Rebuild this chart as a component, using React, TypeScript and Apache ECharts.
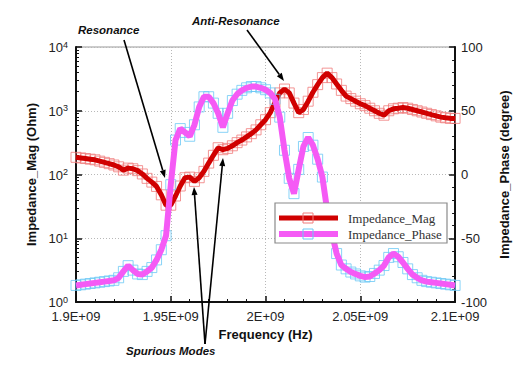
import React, { useEffect, useRef } from "react";
import * as echarts from "echarts";

const freqMHz = [1900,1902.5,1905,1907.5,1910,1912.5,1915,1917.5,1920,1922.5,1925,1927.5,1930,1932.5,1935,1937.5,1940,1942.5,1945,1947.5,1950,1952.5,1955,1957.5,1960,1962.5,1965,1967.5,1970,1972.5,1975,1977.5,1980,1982.5,1985,1987.5,1990,1992.5,1995,1997.5,2000,2002.5,2005,2007.5,2010,2012.5,2015,2017.5,2020,2022.5,2025,2027.5,2030,2032.5,2035,2037.5,2040,2042.5,2045,2047.5,2050,2052.5,2055,2057.5,2060,2062.5,2065,2067.5,2070,2072.5,2075,2077.5,2080,2082.5,2085,2087.5,2090,2092.5,2095,2097.5,2100];

const magOhm = [186,182,178,174,170,162,155,148,141,132,117,126,123,115,102,87,76,65,48,33,33,46,66,89,91,78,89,112,151,200,263,245,257,282,316,347,389,437,501,603,724,933,1349,1905,2188,1905,1318,933,1047,1413,1950,2570,3311,3890,3311,2630,2089,1698,1549,1413,1288,1202,1096,1000,912,851,1000,1072,1096,1122,1096,1047,1000,955,912,871,832,794,776,759,759];

const phaseDeg = [-87,-86.5,-86,-85.5,-85,-84.5,-84,-83.5,-83,-81,-76,-71.5,-75,-78,-78.5,-76,-73,-67,-59,-48,-8,27,36,33,30,39,53,61,61,56,48,37,48,58,63,66,68,69,69,68,66.5,64,59,45,19,-3,-15,4,22,29,23,12,-2,-28,-46,-62,-71,-74,-76.5,-78,-79.5,-80.5,-80,-77.6,-75,-71.4,-65,-62,-64.5,-69,-74,-78.5,-81,-83,-84,-84.5,-85,-85.5,-86,-86.5,-87];

const xTickLabels: Record<string, string> = {
  "1900000000": "1.9E+09",
  "1950000000": "1.95E+09",
  "2000000000": "2E+09",
  "2050000000": "2.05E+09",
  "2100000000": "2.1E+09",
};

const seriesNames = ["Impedance_Mag", "Impedance_Phase"];

const SANS = "'Liberation Sans', Arial, sans-serif";
const SERIF = "'Liberation Serif', 'Times New Roman', serif";
const RED = "#d00000";
const RED_MK = "#f07a7a";
const MAG = "#f55af5";
const BLUE_MK = "#6cc8f5";

function logMinorTicks(): number[] {
  const out: number[] = [];
  for (let d = 1; d < 10000; d *= 10) {
    for (let m = 2; m <= 9; m++) out.push(d * m);
  }
  return out;
}

function arrow(x1: number, y1: number, x2: number, y2: number) {
  const dx = x2 - x1;
  const dy = y2 - y1;
  const len = Math.sqrt(dx * dx + dy * dy);
  const ux = dx / len;
  const uy = dy / len;
  const hl = 8;
  const hw = 3;
  const bx = x2 - ux * hl;
  const by = y2 - uy * hl;
  return [
    {
      type: "line",
      shape: { x1, y1, x2: bx, y2: by },
      style: { stroke: "#000", lineWidth: 1.6 },
      z: 100,
    },
    {
      type: "polygon",
      shape: {
        points: [
          [x2, y2],
          [bx - uy * hw, by + ux * hw],
          [bx + uy * hw, by - ux * hw],
        ],
      },
      style: { fill: "#000" },
      z: 100,
    },
  ];
}

export default function App() {
  const ref = useRef<HTMLDivElement>(null);
  useEffect(() => {
    document.body.style.margin = "0";
    if (!ref.current) return;
    const chart = echarts.init(ref.current, undefined, { renderer: "svg" });
    const magData = freqMHz.map((f, i) => [f * 1e6, magOhm[i]]);
    const phaseData = freqMHz.map((f, i) => [f * 1e6, phaseDeg[i]]);

    const legendX = 275;
    const legendY = 203;
    const graphic: any[] = [
      {
        type: "rect",
        shape: { x: legendX, y: legendY, width: 172, height: 40 },
        style: { fill: "#fff", stroke: "#8a8a8a", lineWidth: 1.2 },
        z: 90,
      },
      {
        type: "line",
        shape: { x1: legendX + 4, y1: legendY + 15, x2: legendX + 63, y2: legendY + 15 },
        style: { stroke: RED, lineWidth: 5 },
        z: 91,
      },
      {
        type: "rect",
        shape: { x: legendX + 28, y: legendY + 10, width: 10, height: 10 },
        style: { fill: "none", stroke: RED_MK, lineWidth: 1 },
        z: 92,
      },
      {
        type: "line",
        shape: { x1: legendX + 4, y1: legendY + 31, x2: legendX + 63, y2: legendY + 31 },
        style: { stroke: MAG, lineWidth: 6 },
        z: 91,
      },
      {
        type: "rect",
        shape: { x: legendX + 28, y: legendY + 26, width: 10, height: 10 },
        style: { fill: "none", stroke: BLUE_MK, lineWidth: 1 },
        z: 92,
      },
      {
        type: "text",
        x: legendX + 73,
        y: legendY + 15,
        style: { text: seriesNames[0], font: `13px ${SERIF}`, fill: "#333", verticalAlign: "middle" },
        z: 93,
      },
      {
        type: "text",
        x: legendX + 73,
        y: legendY + 31,
        style: { text: seriesNames[1], font: `13px ${SERIF}`, fill: "#333", verticalAlign: "middle" },
        z: 93,
      },
      {
        type: "text",
        x: 78,
        y: 30,
        style: { text: "Resonance", font: `italic bold 11.5px ${SANS}`, fill: "#111", verticalAlign: "middle" },
        z: 100,
      },
      {
        type: "text",
        x: 192,
        y: 21,
        style: { text: "Anti-Resonance", font: `italic bold 11.5px ${SANS}`, fill: "#111", verticalAlign: "middle" },
        z: 100,
      },
      {
        type: "text",
        x: 126,
        y: 351,
        style: { text: "Spurious Modes", font: `italic bold 11.5px ${SANS}`, fill: "#111", verticalAlign: "middle" },
        z: 100,
      },
      ...arrow(124, 40, 165, 178),
      ...arrow(247, 30, 284, 81),
      ...arrow(205, 344, 194, 187),
      ...arrow(205, 344, 223, 158),
    ];

    chart.setOption({
      animation: false,
      backgroundColor: "#fff",
      grid: {
        left: 76,
        right: 58,
        top: 47,
        bottom: 69,
        show: true,
        borderColor: "#9a9a9a",
        borderWidth: 1.2,
        backgroundColor: "transparent",
      },
      graphic,
      xAxis: {
        type: "value",
        min: 1900000000,
        max: 2100000000,
        interval: 50000000,
        name: "Frequency (Hz)",
        nameLocation: "middle",
        nameGap: 21,
        nameTextStyle: { fontFamily: SANS, fontWeight: "bold", fontSize: 13, color: "#111" },
        axisLine: { onZero: false, lineStyle: { color: "#111", width: 2 } },
        axisTick: { inside: true, length: 6, lineStyle: { color: "#111", width: 1.5 } },
        minorTick: { show: true, splitNumber: 5, length: 3, lineStyle: { color: "#111", width: 1 } },
        axisLabel: {
          margin: 8,
          fontFamily: SANS,
          fontSize: 13,
          color: "#222",
          formatter: (v: number) => xTickLabels[String(Math.round(v))] ?? "",
        },
        splitLine: { show: true, lineStyle: { color: "#b8b8b8", type: [1, 2], width: 1 } },
      },
      yAxis: [
        {
          type: "log",
          logBase: 10,
          min: 1,
          max: 10000,
          name: "Impedance_Mag (Ohm)",
          nameLocation: "middle",
          nameGap: 38,
          nameRotate: 90,
          nameTextStyle: { fontFamily: SANS, fontWeight: "bold", fontSize: 13, color: "#111" },
          axisLine: { show: true, onZero: false, lineStyle: { color: "#111", width: 2 } },
          axisTick: { inside: true, length: 6, lineStyle: { color: "#111", width: 1.5 } },
          axisLabel: {
            margin: 8,
            formatter: (v: number) => `{b|10}{s|${Math.round(Math.log10(v))}}`,
            rich: {
              b: { fontFamily: SANS, fontSize: 13, color: "#222", lineHeight: 14, verticalAlign: "bottom" },
              s: { fontFamily: SANS, fontSize: 9, color: "#222", lineHeight: 14, verticalAlign: "top", padding: [0, 0, 5, 0] },
            },
          },
          splitLine: { show: true, lineStyle: { color: "#b8b8b8", type: [1, 2], width: 1 } },
        },
        {
          type: "value",
          min: -100,
          max: 100,
          interval: 50,
          position: "right",
          name: "Impedance_Phase (degree)",
          nameLocation: "middle",
          nameGap: 38,
          nameRotate: 90,
          nameTextStyle: { fontFamily: SANS, fontWeight: "bold", fontSize: 13, color: "#111" },
          axisLine: { show: true, onZero: false, lineStyle: { color: "#111", width: 2 } },
          axisTick: { inside: true, length: 6, lineStyle: { color: "#111", width: 1.5 } },
          minorTick: { show: true, splitNumber: 5, length: 3, lineStyle: { color: "#111", width: 1 } },
          axisLabel: { margin: 6, fontFamily: SANS, fontSize: 13, color: "#222" },
          splitLine: { show: false },
        },
        {
          type: "log",
          logBase: 10,
          min: 1,
          max: 10000,
          position: "left",
          axisLine: { show: false, onZero: false },
          axisLabel: { show: false },
          splitLine: { show: false },
          axisTick: {
            show: true,
            inside: true,
            length: 3,
            customValues: logMinorTicks(),
            lineStyle: { color: "#111", width: 1 },
          },
        },
      ],
      series: [
        {
          name: seriesNames[0] + " markers",
          type: "scatter",
          yAxisIndex: 0,
          data: magData,
          symbol: "rect",
          symbolSize: 10,
          itemStyle: { color: "transparent", borderColor: RED_MK, borderWidth: 1 },
          silent: true,
          z: 2,
        },
        {
          name: seriesNames[0],
          type: "line",
          yAxisIndex: 0,
          data: magData,
          showSymbol: false,
          symbol: "none",
          lineStyle: { color: RED, width: 5 },
          z: 3,
        },
        {
          name: seriesNames[1] + " markers",
          type: "scatter",
          yAxisIndex: 1,
          data: phaseData,
          symbol: "rect",
          symbolSize: 10,
          itemStyle: { color: "transparent", borderColor: BLUE_MK, borderWidth: 1 },
          silent: true,
          z: 4,
        },
        {
          name: seriesNames[1],
          type: "line",
          yAxisIndex: 1,
          data: phaseData,
          showSymbol: false,
          symbol: "none",
          lineStyle: { color: MAG, width: 6 },
          z: 5,
        },
      ],
    });
    return () => chart.dispose();
  }, []);
  return <div ref={ref} style={{ width: 519, height: 371 }} />;
}
